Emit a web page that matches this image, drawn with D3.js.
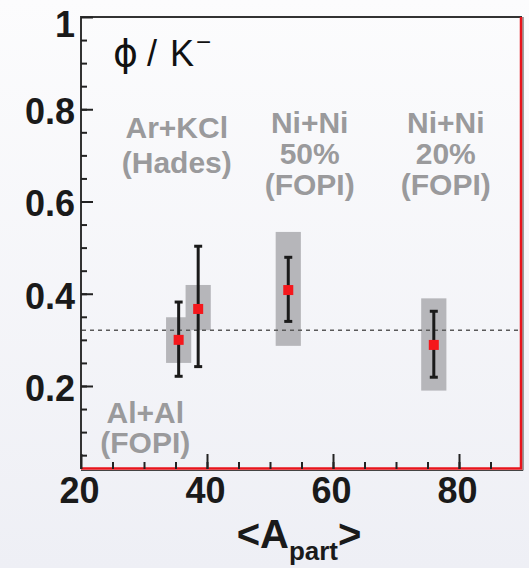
<!DOCTYPE html>
<html>
<head>
<meta charset="utf-8">
<script src="https://cdn.jsdelivr.net/npm/d3@7"></script>
<style>
  html, body { margin: 0; padding: 0; background: #fff; }
  svg { display: block; }
</style>
</head>
<body>
<div id="chart"></div>
<script>
// measured points: phi / K- vs <A_part>
const systems = ["Al+Al", "Ar+KCl", "Ni+Ni 50%", "Ni+Ni 20%"];
const aPart = [35.5, 38.6, 52.9, 76.0];
const phi = [0.300, 0.367, 0.408, 0.289];
const statLow = [0.221, 0.242, 0.340, 0.219];
const statHigh = [0.382, 0.503, 0.479, 0.362];
const sysLow = [0.250, 0.321, 0.287, 0.190];
const sysHigh = [0.349, 0.419, 0.534, 0.390];
const meanPhi = 0.321;

const xMajorTicks = [20, 40, 60, 80];
const yMajorTicks = [0.2, 0.4, 0.6, 0.8, 1];

// annotation text (anchor in data units)
const annLines = [["Ar+KCl", "(Hades)"], ["Ni+Ni", "50%", "(FOPI)"], ["Ni+Ni", "20%", "(FOPI)"], ["Al+Al", "(FOPI)"]];
const annX = [35.2, 56.3, 77.9, 30.2];
const annY = [0.737, 0.748, 0.748, 0.119];

const width = 529, height = 568;
const marginLeft = 81, marginRight = 7, marginTop = 17, marginBottom = 99;
const boxHalf = 2.0; // half width of systematic boxes, in A_part units

const x = d3.scaleLinear([20, 90], [marginLeft, width - marginRight]);
const y = d3.scaleLinear([0.02, 1.0], [height - marginBottom, marginTop]);

const svg = d3.select("#chart").append("svg")
    .attr("width", width)
    .attr("height", height)
    .attr("viewBox", [0, 0, width, height]);

const grad = svg.append("defs").append("linearGradient")
    .attr("id", "bg").attr("x1", 0).attr("y1", 0).attr("x2", 0).attr("y2", 1);
grad.append("stop").attr("offset", "0%").attr("stop-color", "#fcfcfd");
grad.append("stop").attr("offset", "100%").attr("stop-color", "#eeeff5");
svg.append("rect").attr("width", width).attr("height", height).attr("fill", "url(#bg)");

const I = d3.range(aPart.length);

// systematic boxes
svg.append("g").attr("fill", "#b6b6ba")
  .selectAll("rect").data(I).join("rect")
    .attr("x", i => x(aPart[i] - boxHalf))
    .attr("width", i => x(aPart[i] + boxHalf) - x(aPart[i] - boxHalf))
    .attr("y", i => y(sysHigh[i]))
    .attr("height", i => y(sysLow[i]) - y(sysHigh[i]));

// mean line
svg.append("line")
    .attr("x1", x(20) + 1).attr("x2", x(90) - 2)
    .attr("y1", y(meanPhi)).attr("y2", y(meanPhi))
    .attr("stroke", "#5a5a5a").attr("stroke-width", 1.5)
    .attr("stroke-dasharray", "4,4");

// statistical error bars
const err = svg.append("g").attr("stroke", "#1a1a1a").attr("stroke-width", 3);
err.selectAll(".bar").data(I).join("line")
    .attr("x1", i => x(aPart[i])).attr("x2", i => x(aPart[i]))
    .attr("y1", i => y(statLow[i])).attr("y2", i => y(statHigh[i]));
err.selectAll(".capHi").data(I).join("line")
    .attr("x1", i => x(aPart[i]) - 4).attr("x2", i => x(aPart[i]) + 4)
    .attr("y1", i => y(statHigh[i])).attr("y2", i => y(statHigh[i]));
err.selectAll(".capLo").data(I).join("line")
    .attr("x1", i => x(aPart[i]) - 4).attr("x2", i => x(aPart[i]) + 4)
    .attr("y1", i => y(statLow[i])).attr("y2", i => y(statLow[i]));

// points
svg.append("g").attr("fill", "#f5171c")
  .selectAll("rect").data(I).join("rect")
    .attr("x", i => x(aPart[i]) - 5)
    .attr("y", i => y(phi[i]) - 5)
    .attr("width", 10).attr("height", 10);

// frame
const x0 = x(20), x1 = x(90), y0 = y(0.02), y1 = y(1.0);
svg.append("path")
    .attr("d", `M${x0},${y0}V${y1}H${x1}`)
    .attr("fill", "none").attr("stroke", "#333").attr("stroke-width", 2);
svg.append("path")
    .attr("d", `M${x0},${y0 + 1.5}H${x1 + 1}V${y1}`)
    .attr("fill", "none").attr("stroke", "#444").attr("stroke-width", 1);
svg.append("path")
    .attr("d", `M${x0},${y0 - 0.5}H${x1 - 1}V${y1}`)
    .attr("fill", "none").attr("stroke", "#e8141c").attr("stroke-width", 2.5);

// axes
const fontAxis = "'Liberation Sans', Arial, sans-serif";

svg.append("g")
    .attr("transform", `translate(${x0},0)`)
    .call(d3.axisLeft(y).tickValues(d3.range(0.05, 1.0, 0.05)).tickSize(-6).tickFormat(""))
    .call(g => g.select(".domain").remove())
    .call(g => g.selectAll(".tick line").attr("stroke", "#222").attr("stroke-width", 2));

svg.append("g")
    .attr("transform", `translate(${x0},0)`)
    .call(d3.axisLeft(y).tickValues(yMajorTicks).tickSize(-12).tickPadding(6)
        .tickFormat(d => d === 1 ? "1" : d.toFixed(1)))
    .call(g => g.select(".domain").remove())
    .call(g => g.selectAll(".tick line").attr("stroke", "#222").attr("stroke-width", 2))
    .call(g => g.selectAll(".tick text")
        .attr("font-family", fontAxis).attr("font-size", 36).attr("font-weight", "bold")
        .attr("fill", "#1a1a1a").attr("dy", "0.4em"))
    .call(g => g.selectAll(".tick").filter(d => d === 1).select("text")
        .attr("dy", "0.55em"));

svg.append("g")
    .attr("transform", `translate(0,${y0})`)
    .call(d3.axisBottom(x).tickValues(d3.range(25, 90, 5)).tickSize(-7).tickFormat(""))
    .call(g => g.select(".domain").remove())
    .call(g => g.selectAll(".tick line").attr("stroke", "#222").attr("stroke-width", 2));

svg.append("g")
    .attr("transform", `translate(0,${y0})`)
    .call(d3.axisBottom(x).tickValues(xMajorTicks).tickSize(-15).tickPadding(8))
    .call(g => g.select(".domain").remove())
    .call(g => g.selectAll(".tick line").attr("stroke", "#222").attr("stroke-width", 2))
    .call(g => g.selectAll(".tick text")
        .attr("font-family", fontAxis).attr("font-size", 36).attr("font-weight", "bold")
        .attr("fill", "#1a1a1a").attr("dx", "-2").attr("dy", "0.71em"));

// x title <A_part>
const xt = svg.append("text")
    .attr("x", 299).attr("y", 548)
    .attr("text-anchor", "middle")
    .attr("font-family", fontAxis).attr("font-weight", "bold")
    .attr("font-size", 40).attr("fill", "#1a1a1a");
xt.append("tspan").text("<A");
xt.append("tspan").attr("font-size", 26).attr("dy", 12).text("part");
xt.append("tspan").attr("font-size", 40).attr("dy", -12).text(">");

// y title phi / K-
const yt = svg.append("text")
    .attr("y", 66)
    .attr("font-family", fontAxis)
    .attr("font-size", 36).attr("fill", "#111");
yt.append("tspan").attr("x", 113)
    .attr("font-family", "'DejaVu Sans', sans-serif").attr("font-size", 38)
    .text("ϕ");
yt.append("tspan").attr("x", 147).text("/");
yt.append("tspan").attr("x", 170).text("K");
yt.append("tspan").attr("x", 196).attr("font-size", 26).attr("dy", -15).text("−");

// annotations
const spacing = [35, 31, 31, 30];
svg.append("g")
    .attr("font-family", fontAxis).attr("font-weight", "bold")
    .attr("font-size", 30).attr("fill", "#9a9a9c").attr("text-anchor", "middle")
  .selectAll("text").data(d3.range(annLines.length)).join("text")
    .attr("x", i => x(annX[i])).attr("y", i => y(annY[i]))
    .each(function(i) {
      d3.select(this).selectAll("tspan").data(annLines[i]).join("tspan")
        .attr("x", x(annX[i]))
        .attr("dy", (d, j) => j === 0 ? 0 : spacing[i])
        .text(d => d);
    });
</script>
</body>
</html>
